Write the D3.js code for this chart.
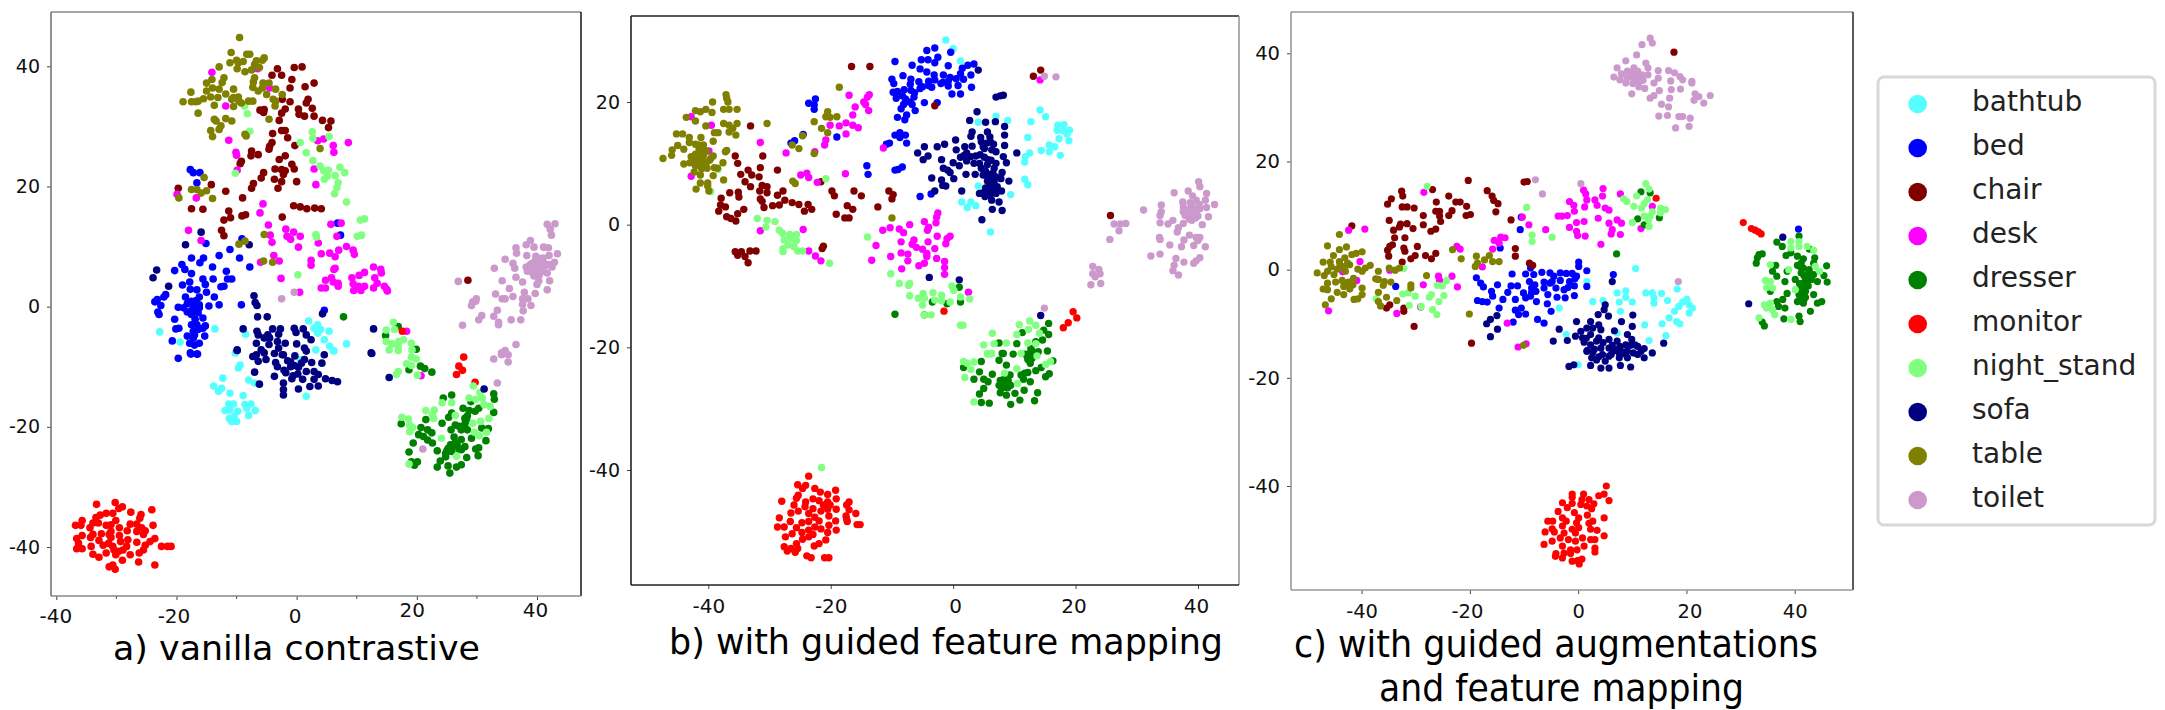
<!DOCTYPE html>
<html><head><meta charset="utf-8">
<script src="https://cdnjs.cloudflare.com/ajax/libs/d3/7.8.5/d3.min.js"></script>
<style>html,body{margin:0;padding:0;background:#fff}svg{display:block}text{font-family:"DejaVu Sans",sans-serif}</style>
</head><body><svg id="c" width="2165" height="710"></svg>
<script>
const categories=["bathtub","bed","chair","desk","dresser","monitor","night_stand","sofa","table","toilet"];
const colors=["#55ffff","#0000ff","#800000","#ff00ff","#008000","#ff0000","#80ff80","#000080","#808000","#cc99cc"];
const tickLabels=[-40,-20,0,20,40];

// Panel a: flat x,y pairs per class
const aBathtub=[2,-2.4,3.5,-3,2.9,-3.6,4,-3.8,3.5,-4.4,5.4,-4.1,4.6,-5.5,5.5,-6.6,6.1,-7.3,8.3,-6.2,3.2,-7.2,-13.6,-3.7,-22.8,-4.2,-8.5,-4.6,-19.4,-5.9,-10.2,-7.7,6.2,-7.4,.6,-8.8,-9.4,-9.7,-9.7,-10.2,-12.3,-11.9,-8,-12.2,-7,-12.7,-13.8,-13.2,-12.5,-13.6,-13,-14.1,-11.1,-14.4,-8.9,-14.8,1.6,-14.9,-11.3,-16.2,-10.5,-16.2,-8.6,-16.3,-7.6,-16.2,-8.3,-16.9,-6.9,-17.3,-11.9,-17.3,-11.1,-17.2,-9.8,-17.4,-8,-18.1,-10.4,-18.3,-11.2,-18.6,-10,-19.1,-10.8,-19.1];
const aBed=[-17.7,22.8,-17.2,22.3,-16.1,22.3,-16.6,20.6,6.8,13.9,7.3,11.9,-9.1,11.3,-15.1,10.5,-11.1,9.5,-12.9,8.5,-17.5,8.1,-15.5,8.1,-9.5,8.1,-16.1,7.3,-19.1,7,-14,6.6,-7.8,6.6,-20.3,6,-18.6,6.2,-17.5,5.5,-11.7,5.9,-15.6,4.6,-17.8,4.1,-13.9,4.6,-11.5,4.6,-10.8,4.6,-19,3.6,-15.2,3.7,-16.6,2.8,-17.7,2.9,-12.1,3.4,-12.6,3.3,-15,2.4,-21.8,2,-22.1,1.6,-18.5,1.6,-13.7,1.6,-23.2,1.2,-23.6,.8,-16.2,1.6,-17.5,.9,-18.2,.5,-16.8,.3,-16.2,.3,-12.9,.3,-9.2,.3,-22.6,.2,-19.7,-.1,-18.8,-.2,-17.2,-.2,-16.2,-.2,-14.6,.1,-18.2,-.9,-23.1,-.9,-22.9,-1.3,-17.5,-1.3,-15.6,-1.9,-16.9,-2.1,-20.3,-2.1,-16.6,-3,-17.5,-3,-15.2,-3.2,-15.6,-3.6,-20.1,-3.7,-19.6,-3.6,-17.2,-4.1,-18.2,-4.9,-15.3,-4.9,-17.2,-5.2,-20.7,-5.7,-17.8,-6.1,-16.2,-6.1,-17,-6.4,-17.7,-7.7,-16.6,-7.9,-19.7,-8.6,-17.6,-7.9,-16.5,-7.9,4.6,-.6,-17,.6,-16.4,-1,-17,-4.7,-17.5,-.7,-16.7,1,-16.4,-3.8];
const aChair=[.9,39.9,-.4,39.8,-3.2,39.6,-4.1,38.5,-2.5,38.5,-.8,37.8,2.9,37.2,1.4,36.6,-1.1,36.4,-2.4,34.5,-1.1,34.1,1.9,34.5,1.6,33.9,2.6,33,-6.1,32.7,-5.4,32.8,-5.5,32.3,-1.9,32.9,-2.5,32.2,.3,32.9,.4,32,1.3,31.7,2.9,31.7,-2.9,31,4.3,31,5.7,30.9,5.3,29.8,-2.5,29.3,-1.9,29.3,-4,28.8,-1.5,28.1,-4.1,27.3,-4.5,26.7,-.3,26.8,-4.6,26.2,-7.5,25.9,-6.4,25.3,-7.6,25.1,-1.9,25.1,-2.9,24.5,-9.2,24.2,-9.4,23.8,-.8,23.7,-.4,22.9,-3.6,22.9,-2.5,22.8,-1.9,22.6,-2.2,22,-5.5,22.3,-5.9,21.4,-3.7,21.2,-2.5,20.8,0,20.8,-7.2,20.5,-7.5,19.7,-3.1,19.7,-14.2,20.3,-19.7,19.7,-11.8,19.2,-9,18.1,-17.5,16.3,-15.6,16.2,-.5,16.8,.6,16.6,1.7,16.3,3,16.4,4.1,16.3,-11.3,15.9,-11,14.8,-12.1,14.4,-9.1,15.1,-8.5,15.3,-2.4,14.9,-12.5,12.7,-12.1,11.8,28.5,4.4];
const aDesk=[-14.1,39,-6.5,39.6,-4.5,36.4,-11.8,33.4,-11.3,27.7,-10.1,25.7,-10,25.2,-9.9,22.7,3.5,27.6,4.5,27.9,6.1,26.8,8.6,27.3,6.2,25.7,2.9,22.9,3.2,20.3,-19.9,18.7,-16.7,18.1,-5.6,17.1,-6.1,15.6,5.7,13.7,7.4,13.9,-4.7,13.6,-18,12.7,-1.8,12.9,-.5,12.4,-4.4,11.9,-1.6,11.7,-1,11.2,.6,11.7,6.7,11.7,-4.1,10.7,3.6,10.6,-15.9,11,.3,9.9,8.3,10,7,9.4,9.4,9.4,9.6,8.7,4.1,8.8,5.5,8.9,6.4,8.3,-3.8,8.5,-6,7.4,-2.9,7.6,2.4,7.7,2.4,6.9,6.4,6.4,6.2,6.2,12.8,6.6,14,6.2,14.1,5.6,11.3,5.7,10.4,5.2,9.2,4.8,13,4.8,-2.6,4.7,4.8,4.4,5.8,4.8,6.1,4.1,6.9,3.9,13.4,3.9,9.4,3.8,10.3,3.4,11.3,3.4,6.9,3.4,4.1,3.1,4.8,3.1,12.8,3.1,14.6,3.4,15,2.9,9.5,2.7,10.7,2.7,15.1,2.6,.5,2.4,18.3,-4.1,20.7,-11.5];
const aDresser=[7.8,-1.7,16.9,-3.3,14.8,-4.8,19.9,-7.1,20.6,-9.9,21.3,-10.3,18.7,-10.5,22.5,-10.9,25.8,-14.7,24.4,-15.2,32.8,-14.5,32.9,-15.4,29,-15.8,27.7,-16.9,28.7,-17.3,30.3,-16.9,29.7,-17.4,32.8,-17.6,25.8,-17.7,25.3,-18.4,28,-18.6,21.5,-18.8,24.2,-19.4,17.4,-19.5,28,-19.5,26.4,-19.7,20.7,-20.1,21.8,-20.5,27.4,-20.5,25.7,-20.5,28.4,-20.5,30.8,-20.2,31.9,-20.3,22.5,-21,20.3,-21.3,21.1,-21.6,26.2,-21.7,21.8,-22.2,27.4,-22.1,29.1,-21.9,31.5,-22.3,22.6,-22.7,19.4,-22.7,26.7,-23,28,-23.3,25.2,-23.6,30.3,-23.5,29.8,-23.7,23.4,-24,27.4,-23.8,25.8,-24.1,18.7,-24.2,24.8,-24.4,30.2,-24.8,28.3,-25.1,23.9,-25.7,24.8,-25,19.1,-25.8,20.1,-25.8,19.6,-26.4,23.4,-26.7,25.2,-26.5,27.4,-26.3,26.6,-26.7,25.5,-27.7,26,-23.2,26.4,-22.6,27,-23.7,25.6,-23,25,-24,27.9,-20,28.3,-19,27,-19.9,28.4,-18.2];
const aMonitor=[17.6,-4.1,27.8,-8.4,27,-9.9,27.6,-10.6,26.6,-11.3,29.7,-12.6,-30.2,-32.6,-33.3,-32.9,-29,-33.3,-29.6,-33.6,-24.1,-33.8,-27.6,-34.2,-25.9,-34.6,-31.7,-34.4,-30.6,-34.4,-32.7,-34.7,-26.1,-35.2,-33.4,-35.1,-35.7,-35.6,-33.9,-36,-33,-36,-30.1,-35.6,-36.8,-36.4,-35.9,-36.4,-31.7,-36.4,-27.7,-36.2,-26.6,-36.2,-23.9,-36.4,-30.9,-36.3,-29.5,-36.8,-34.4,-36.8,-25.8,-36.8,-30.9,-37.4,-28.2,-37.3,-26.6,-37.4,-25.2,-37.3,-32.5,-37.8,-31.2,-37.9,-33.9,-37.9,-35.7,-38.1,-29.5,-38.1,-25.5,-37.9,-34.3,-38.4,-36.6,-38.6,-30.9,-38.4,-23.6,-38.6,-32.9,-38.9,-28.1,-38.8,-26.6,-39.2,-29.3,-39.1,-24.4,-39.1,-36.3,-39.4,-32.2,-39.7,-31.3,-39.4,-34.2,-39.9,-25.2,-39.7,-30.6,-39.9,-22.5,-39.9,-21.5,-39.9,-20.9,-39.9,-36.6,-40.3,-35.7,-40.3,-28.3,-39.9,-28.9,-40.5,-25.5,-40.5,-29.6,-40.7,-30.4,-40.5,-31.7,-41,-26.2,-41,-30.1,-41.3,-27.7,-41.3,-33.9,-41.2,-32.9,-41.7,-29,-42.2,-26.3,-42.5,-23.6,-43,-31.2,-43.3,-30.6,-43,-30.2,-43.7];
const aNight=[-8.7,33.4,-8.2,32.1,-7.8,29.2,2.6,29.1,2.7,28,5.4,28.3,.6,27.3,1.6,25.6,2.7,24.3,3.9,23.4,4.5,22.6,5.3,22.7,7.2,23.2,8,22.3,6.4,21.8,5.1,21.7,4.6,21.2,6.9,20.6,6.7,19.8,6.3,18.8,8.3,17.4,-10.2,22.2,11.3,14.6,10.6,14.4,3.2,12,3.3,11.6,10.8,11.9,10.1,11.7,.2,5.3,16.1,-2.6,14.9,-3.9,16.3,-3.8,14.9,-5.8,15.9,-6.2,17,-5.8,17.8,-5.5,16.9,-6.6,19.1,-6.1,19.2,-7.2,15.4,-7.2,16.9,-7.3,19.1,-8.4,19.9,-8.7,18.3,-9.5,19.1,-9.8,16.9,-10.8,16.6,-11.3,20.1,-11.4,29.4,-13.2,30.5,-14.3,29.8,-15.4,30.9,-15.2,28.7,-15.2,24.2,-16,25.8,-16,31.2,-16.3,32.2,-16.6,21.5,-17.3,22.9,-17.2,22.6,-18,22.8,-18.6,26.4,-18.1,17.5,-18.4,18.6,-18.7,32,-18.6,18.8,-19.7,19.3,-20.1,18.8,-20.8,29.3,-19.4,30.6,-19.1,29.6,-20.9,31.6,-20.9,30.4,-21.5,24.1,-21.9,26.6,-24.9,18.7,-26.2];
const aSofa=[-15.9,12.4,-18.5,10.3,-7.9,10.3,-23.3,6.1,-23.9,4.8,-21.3,3.4,-7.1,1.8,-6.9,.7,-6.6,.2,4.3,-1.2,-6.5,-1.7,-4.9,-1.7,12.8,-3.7,-8.9,-3.7,-4,-3.7,-2.7,-3.7,-.4,-3.6,1.1,-3.7,-6.6,-4.1,-6.4,-4.7,-4.8,-4.7,-3,-4.6,-.1,-4.3,1.6,-4.7,-5.4,-5.2,-4.5,-5.2,2.4,-5.5,-6.7,-6.1,-3.2,-5.8,-1.9,-6.1,0,-6.2,-4.6,-6.3,1.3,-6.9,-9.9,-7.2,-5.9,-7.2,-2.4,-8,-6.7,-8,12.4,-7.7,4.6,-8,-9.9,-7.3,12.5,-7.8,-7.3,-8.3,-5.4,-7.7,-3.7,-7.8,-2.2,-8,-.3,-8.2,1.6,-7.4,-6.4,-9.1,-5.1,-8.8,-3.5,-9.3,-1.5,-9,1.3,-8.8,2.5,-9.3,4.2,-9.4,-3.2,-10,-1,-10,.3,-10.1,-2.1,-10.6,-7,-10.9,1.6,-10.8,2.9,-10.8,3.6,-11.3,-3.7,-11.6,-.6,-11.5,-.8,-12,1,-12.1,2.9,-12.1,4.8,-12,5.9,-12.3,6.8,-12.5,-6.2,-12.9,-2.2,-12.7,2.2,-13.3,3.6,-13.2,.3,-13.7,-2.2,-13.8,-2.2,-14.7,15.4,-11.8,31.2,-13.7,-1,-9.2,-.4,-9.8,.8,-9.4,-1.8,-11,.2,-11.2,-3,-6.9];
const aTable=[-9.5,44.8,-10.9,42.3,-8.3,42,-7.8,42,-5.4,41.4,-5.7,41,-10,41,-9.7,40.6,-11.1,40.6,-8.9,40.8,-6.7,40.9,-7,40.3,-12.9,39.9,-9.9,39.6,-8.6,39.1,-7.5,39.4,-6.2,39.8,-14.1,37.8,-12.1,38.1,-12.4,37.3,-15,37.2,-7,38.1,-7.2,37.4,-5.6,37.2,-4.6,37.2,-7.3,36.5,-5.7,36.4,-6.4,35.9,-3.5,36.2,-10.5,36.2,-14,36.4,-12.9,36.2,-15,35.9,-17.6,35.7,-11.8,35.4,-13.1,34.8,-14.3,34.9,-15.5,34.6,-10.5,34.8,-9.7,34.9,-10.8,34.5,-9.6,34.2,-9.2,33.9,-5,35.3,-2.4,35.3,-3.9,34.5,-3.5,34.2,-3.6,33.4,-18.9,34.1,-17.5,34.1,-16.8,34.1,-16.4,34.2,-8,34.2,-7.3,34.2,-13.7,33.5,-10.5,33.3,-16.4,32.2,-13.7,31.2,-11.8,31.3,-10.8,30.9,-13.4,30.9,-4.6,31.2,-12.6,30.1,-12.9,29.5,-14.3,29.3,-14,28.3,-8.6,28.7,-8.4,28.4,3.9,26.3,-15.4,21.5,-17.5,19.5,-16.6,19.5,-15.9,18.9,-15,19.3,-14,18,-19.6,18.1,-5.4,12,-9.6,10.4,-8.6,10.9,-5.5,7.6,-4,7.4];
const aToilet=[41.7,13.7,43,13.8,42.2,12.9,42.4,11.9,38.9,11,38.2,10.3,39.5,9.9,41.1,9.9,41.9,9.8,36.5,9.8,36.6,8.9,43.4,8.8,38.3,8.5,34.7,7.9,39.8,8.4,42,8.5,41,8.1,39.7,7.6,42.9,7.4,36,7.2,41.1,7.3,38.9,7,41.9,7,42.5,6.6,32.9,6.4,36.3,6.4,38.2,6.6,39.5,6.2,40.8,6.4,38.4,5.9,41.7,5.6,39.5,5.1,40.4,5.3,36.5,4.9,26.9,4.2,34.2,4.3,37.6,4.1,40.3,4.3,42.1,4.3,40,3.7,35.4,3,41.7,2.8,37.9,2.4,33.1,2.1,36,1.7,39.7,2.2,29.9,1.3,34.2,1.3,34.7,1.3,38.5,1.3,37.6,1.3,29.3,.8,29.8,.9,29.1,.2,37.6,.4,39,.2,33.4,-.6,37.7,-.7,30.8,-1.5,32.8,-1.6,30.3,-2.2,35.7,-2.2,37.3,-2.2,33.6,-2.6,33.6,-3,27.6,-3.1,36.5,-6.3,34.7,-7.3,34.1,-7.7,32.8,-8.7,34.1,-8,35.2,-8,35.2,-9.2,33.4,-12.7,21,-23.7,-2.5,1.3,-.4,2.4,40,7.5,40.6,7,39,6.8,40,6.6,41.3,6.8,39.3,5.6,40.2,5.8,40.8,5.9,38.8,6.1,40.4,8,39.2,7.2];

// Panel b
const bBathtub=[-1.2,30.1,0,28.7,1.2,26.7,14.2,18.7,15.1,17.6,12.7,16.8,7,17.7,8.9,17,4.1,16.7,17.1,16.2,18.1,16.3,17,15.4,18,15.3,19,15.4,18.6,14.8,12.2,14.2,17.3,14,18.9,13.7,15.7,13,16.6,12.7,14.4,12.1,12.5,11.7,15.7,11.9,17.5,11.3,11.8,11.1,11.7,10.2,11.7,7.4,12.2,6.5,4.1,6.3,9.4,4.9,1.4,3.7,2.9,3.7,2.3,2.8,3.7,3.1,6.1,-1.2];
const bBed=[-4.3,28.4,-3,28.8,-.4,28.1,-9.5,26.6,-5.2,26.9,-4.1,26.9,-6.7,26,-3,26.4,-2.5,27.3,-.8,25.9,3.4,26.2,2.4,26,-5.4,25.4,-4.3,24.9,1.5,25.5,-8.2,24.3,-1.6,24.4,-3.1,24.4,2.9,24.4,1.2,24.6,-10,23.7,-6.9,23.7,-5.6,23.3,-4,23.4,-3,23.6,-.5,24,.5,23.8,1.7,23.7,-1.7,23.2,-9.7,23,-7,22.9,-4,22.7,-5,22.5,-.8,22.6,.8,22.7,3,22.4,-9.8,21.6,-9.1,21.7,-6.9,21.9,-5.4,22.2,-.2,21.3,1.2,21.3,-8.3,21,-6.4,20.8,-9.3,20.6,-7.8,20.5,-7.1,20,-8.1,19.6,-4.7,19.9,-6.7,19.6,-2.6,19.9,-8.5,18.9,-6.2,18.6,-7.6,17.9,-9.1,17.5,-7.9,17.1,-22.5,20.5,-23.6,19.8,-22.7,19.5,-22.7,18.8,-8.7,15,-9.5,14.6,-7.8,14.6,-8.7,14.2,-7.6,13.3,-10.4,13.3,-10.9,13.1,-24.5,14.7,-25.9,13.7,-26.5,13.3,-19,14.3,-14.1,9.6,-13.9,8.2,-8.3,9.4,-9,9,-9.5,8.9,-5.4,4.6,-3.6,5,-2,23,-.8,23.4,-6.3,21.5,-8,22,-3.5,22.4];
const bChair=[-16.6,25.8,-13.6,25.8,13.1,24.2,14.3,25.2,-3,19.4,-33.1,16.1,-35.6,11.2,-31.1,11.2,-35.2,10,-31.5,9.3,-28.7,8.9,-33.5,8.9,-34.7,8.2,-32.9,8.1,-31.7,7.8,-34,7,-21.6,7,-33.1,6.2,-31.2,6.4,-30.4,6.2,-31.6,5.5,-27.8,5.5,-19.8,5.5,-16.2,5.5,-10.5,5.5,-36.5,5.2,-35.1,5.3,-30.4,5.2,-28.7,4.8,-19.4,4.7,-15,4.7,-9.8,4.9,-35,4.5,-37.9,4.3,-31.5,4.2,-31.2,3.8,-27.5,4,-10,4.2,-26.3,3.6,-25.2,3.3,-23.7,3.3,-29.5,3.1,-28.4,3.2,-17.3,3.1,-30.9,2.8,-12.3,2.9,-38,3.2,-37.2,2.9,-23.1,2.5,-16.4,2.5,-38.3,2.2,-34.2,2.5,-24.3,2.2,-35.2,1.8,-19.1,1.7,-37,1.3,-36.3,1,-17.7,1.1,-17,1.1,-35.5,.6,25.7,1.5,-35.6,-4.4,-34.6,-4.4,-33.2,-4.3,-32.2,-4.3,-35.2,-5,-34,-5.2,-33.5,-6.2,-21.2,-3.5,-21.4,-3.9];
const bDesk=[14.2,23.6,-17,21.1,-13.7,21.2,-14,20.8,-14.6,20,-14.3,19.6,-16,19.2,-13.8,18.6,-16.4,17.9,-42.8,17.6,-39.5,16.2,-20.1,16.2,-18.6,16.1,-17.5,16.6,-16.4,16.2,-15.5,15.8,-17.5,14.8,-20.8,13.8,-21,13,-31.5,13.4,-11.4,12.5,-27.3,11.7,-39.9,12,-22.6,11.9,-42.8,7.9,-24.9,8.1,-23.9,8.4,-23.6,7.7,-17.6,8.3,-22.2,6.9,-2.5,1.9,-2.7,1.2,-4.7,.5,-2.8,.3,-7.1,0,-4,-.4,-10.3,-.5,-8.8,-.7,-4.2,-.9,-11.5,-.9,-8.1,-1.3,-24.5,-.8,-31.5,-1,-.5,-1.9,-2.6,-1.9,-1,-2.3,-8.5,-2.8,-6.4,-2.5,-4.1,-2.8,-1.2,-3.1,-6.7,-3.2,-6,-3.7,-5,-4,-3,-3.9,-12.6,-3.4,-4.3,-4.7,-8.5,-4.6,-7.4,-4.8,-10.2,-5.2,-23.6,-4.3,-22.5,-5.1,-4.3,-5.2,-2.7,-5.5,-13.3,-5.8,-21.6,-5.9,-7.4,-5.9,-1.4,-6,-4.7,-6.3,-5.6,-6.7,-1.4,-7,-8.4,-7.2,-1.4,-8.1,2.5,-11];
const bDresser=[1,-10.2,1.2,-12.6,-3.4,-12.6,-1,-12.9,-9.5,-14.6,-4.7,-14.7,15.6,-16.1,11.3,-17.6,14.8,-17.2,15.6,-17.9,14.6,-18.8,13.5,-19.1,7.5,-19.3,10.4,-19.4,15.4,-20.6,12.9,-20.6,8.2,-21,9.8,-21.1,11.8,-21.1,8,-21,12.5,-21,13.9,-20.7,12.9,-21.8,4.6,-22.3,7.5,-22.1,16.3,-22.2,8.7,-22.9,12.6,-22.6,14.4,-23.3,1.7,-23.3,13.5,-23.8,4.3,-24,6.4,-24.4,15.7,-24.3,15.1,-24.8,9.3,-24.5,11.1,-24.5,3.4,-25.2,5,-25.2,12.6,-25.6,5.7,-25.6,7.7,-25.4,8.4,-25.7,11.5,-25.2,9.4,-26.2,7.5,-26.2,8.4,-26.5,5,-26.7,11.6,-27,7.7,-27.4,8.7,-27.8,10.1,-27.5,4.3,-27.6,13.8,-27.4,10.9,-28.6,13.3,-28.7,4.6,-29,5.9,-29.1,9.4,-29.3,8,-25.9,8.8,-26,8.3,-25.2,9,-25.5,7.9,-26.6,8.9,-26.6,12.1,-21.5,12.2,-22,13.4,-21.3,12.7,-20.2,11.7,-24.2,12.2,-24.1];
const bMonitor=[-1.5,-14.1,19.6,-14.2,20.2,-15.2,18.8,-16,18,-16.8,-23.6,-41,-25.4,-42.4,-24.1,-42.5,-24.6,-43,-22.6,-43,-21.7,-43.6,-19.2,-43.3,-20.5,-44,-25.3,-44.1,-19.1,-44.7,-25.6,-44.6,-22.9,-44.7,-28,-45.1,-24.1,-45.2,-21.9,-45,-20.5,-45.2,-17,-45.2,-26,-45.7,-21.2,-45.7,-20.1,-45.7,-17.4,-45.7,-24.2,-46,-22.9,-46.3,-19.1,-46.4,-17,-46.5,-21.6,-46.7,-20.5,-46.4,-25.3,-46.7,-26.5,-47,-23.6,-47.1,-15.9,-47.1,-20.3,-47.5,-17.5,-47.5,-22.6,-47.7,-28.4,-47.8,-17.4,-48,-21.9,-48.3,-19.2,-48.3,-26.6,-48.4,-24.7,-48.6,-23.6,-48.4,-17.3,-48.4,-15.7,-48.9,-15.2,-48.9,-20.3,-49,-28.7,-49.3,-27.6,-49.3,-22.6,-49.3,-25.6,-49.4,-21.6,-49.6,-23.6,-49.8,-19.1,-49.8,-20.5,-50.2,-24.7,-50.2,-26.3,-50.4,-22.9,-50.5,-27.4,-50.9,-24.6,-51.3,-23.6,-50.9,-20.8,-51.4,-25.6,-52,-21.9,-52,-22.7,-52.4,-27.6,-52.5,-26.5,-52.8,-25.4,-52.8,-27.1,-53.2,-25.8,-53.4,-23.9,-54,-23.2,-54.3,-21,-54.3,-20.3,-54.3];
const bNight=[-32,1,-30.4,.7,-29.1,.5,-30.6,-.4,-28.4,-.9,-27.9,-1.4,-26.7,-1.6,-25.6,-1.6,-27.6,-2.5,-26.5,-2.3,-25.6,-2.6,-27,-3.3,-27.8,-3.9,-27.8,-4.4,-26,-3.6,-25.4,-4.3,-24.6,-4.3,-20.2,-6.3,-20.8,7.5,-38.4,9,-39.6,5.4,-14,-2,-10.2,-8,-8.8,-9.6,-7.1,-9.6,-7.3,-9.9,-.2,-10,-7.1,-11.6,-4.9,-11.2,-3.3,-11.1,.1,-10.7,1.2,-11.8,-5.7,-12,-4.7,-12,-1.9,-11.5,-5,-13.1,-3,-12.3,-1.9,-12.4,-.5,-12.6,2.7,-12.1,-4.7,-14.7,-3.6,-14.7,1.2,-16.4,1.6,-16.4,12.5,-15.7,10.8,-16.3,13.5,-16.4,10.4,-17.9,12.3,-17.1,14.1,-17.7,6.4,-17.7,5,-19.6,6.7,-19.4,8.7,-19.3,12.2,-19.3,13.5,-19.4,5.6,-21,6.3,-21,5.6,-21.1,6.2,-21.1,13.7,-21.4,15.9,-22.3,15.1,-22.8,1.7,-22.3,3.4,-22.4,2.3,-22.6,2.9,-23.6,8.4,-24.2,10.4,-23.5,1.9,-24.9,10.5,-25.9,3.4,-28.9,11.1,-21,-21.5,-39.6];
const bSofa=[4.1,25.2,7,20.8,7.7,21,8.2,21.1,3.9,18.4,2.7,17,5.3,16.7,6.9,16.8,8.4,16,3.1,15.1,5.6,15.1,2.9,14.4,8.4,14.6,4.5,14.2,6,14.3,.4,13.8,4.6,13.5,6.1,13.5,4.9,12.7,8.4,12.9,-1.4,13.1,-4.7,12.7,-2.6,12.7,.5,12.2,1.9,12.7,3.1,12.8,6.3,12.2,7,11.9,-5.8,11.7,10.4,11.7,2.2,11.7,-4.1,11.2,-4.9,10.6,-1.9,10.6,2.9,11.1,8.2,11.1,2.2,10.4,4.3,10,0,10.1,8.7,10.1,-1.6,9.2,1,9.6,7,10,4.6,9.2,-.9,8.9,6.7,9.2,-.5,8.5,2.1,8.2,3.6,8.2,8,8.5,4.9,8.1,6,8.2,-3.5,7.6,.1,7.5,7.8,7.5,-1.9,7.3,7,7.8,9.1,7.1,6.7,7,-1.7,6.4,-1.2,6.3,6,6.4,7.2,6.2,-3,5.5,1.4,5.5,7.9,5.5,4.3,5.1,4.9,5.2,6,4.8,7,5.1,6.3,4,7.5,3.7,6.4,2.5,8,2.3,4.7,.8,-3.9,-8.6,1,-9,14.3,-14.8,5.7,10.6,5.1,11,6.2,10.5,5.6,9.8,5.3,8.7,5.5,8,6.5,8.4,6.2,7.2,5.6,7.1,6.5,6.5,6.8,5.7,5.3,6,5.7,5.5,6.3,5.5,5.1,12.4,5.5,13.3,6.6,13.1,4.4,11.4,3.7,11.2,3.4,10,1.8,11.3,1.2,11,5.2,4.6];
const bTable=[-37.1,21.2,-37,20.6,-36.8,20,-39.3,20,-42.1,18.6,-41.3,18.4,-40.4,18.8,-39.4,18.3,-37.5,18.8,-36.6,18.8,-35.3,18.8,-43.6,17.5,-42.1,16.9,-40.4,16.1,-37.5,16.5,-36.6,16.2,-35.3,16.5,-36,15.7,-30.4,16.5,-45.2,14.8,-44.2,14.8,-39,15,-38.4,15,-36.6,15.1,-35.5,14.6,-43.1,14.2,-41.2,14.2,-39.2,13.6,-43.1,13.4,-45,12.9,-42.1,13.1,-40.8,13,-45.9,12.2,-44,12.3,-41.5,12.3,-37,12.1,-37.2,11.9,-42.1,11.5,-46,11.3,-42.8,11.1,-40.8,11.3,-39.2,11.2,-47.4,10.8,-42.1,10.6,-39.8,10.5,-40.8,10.4,-43,10.1,-37.6,10.1,-44,9.9,-42.1,9.6,-40.4,9.8,-39,9.3,-38.5,9.2,-42.3,8.6,-41.1,9.1,-41.3,8.1,-39.2,8,-37.5,7.3,-41.3,6.8,-40.1,6.8,-40.1,6.3,-42,5.8,-39.9,5.5,-18.6,22.4,-20.5,18.4,-20.8,17.6,-20.1,17.5,-19,17.6,-22.7,16.8,-21.5,15.7,-20.5,15,-24.6,14.5,-26.3,13,-25.2,12.4,-22.7,11.6,-26.2,7.1,-25.8,6.7,-10,1.1,-41,11.8,-41.7,10.8,-40.3,12,-41.4,10,-39.6,10.8,-41.6,13,-40.2,9.2];
const bToilet=[40.1,7,40.3,6.2,41.4,5.1,36.1,5.2,38.4,5.5,39.1,4.7,41.2,4,42.7,3.3,34,3.2,37.5,3.7,39.7,4,31.1,2.4,37.6,2.9,39,3.2,41.4,2.8,40.3,2.6,34,2.1,33.8,1.5,37.6,2.1,38.6,1.8,39.7,1.8,41.7,1.3,39,.7,33.8,.3,35.9,.7,37.6,.2,40.7,0,26.3,.1,27.3,.1,28.2,.2,35.1,.1,36.8,-.5,27.1,-1,36.6,-1.2,25.6,-2.4,33.7,-2.1,38.6,-1.7,39.7,-2.1,40.3,-2.1,33.8,-2.4,37.7,-2.5,40,-2.6,35.4,-3.3,37.3,-3.6,39.3,-3.4,41.2,-3.6,33.8,-4.8,32.3,-5.1,36.4,-5.5,40.3,-5.4,37.7,-6.1,39.7,-5.9,39.3,-6.3,36.1,-6.6,35.9,-7.5,36.8,-8.2,22.8,-6.8,23.8,-7.3,22.8,-8,24,-8,23.2,-8.5,24.1,-9.6,22.5,-9.8,14.9,-13.6,16.8,24.1,14.9,24.2,38.8,2.6,39.4,2.5,39,1.2,39.6,1.1,38.6,.9,40,1.4,38.9,2.1,39.4,1.6,38.2,2.4,37.9,1.5,39.9,2.5,40.2,3.3,38.7,3.6];

// Panel c
const cBathtub=[10.6,.2,1.6,-2.2,18.3,-3.6,12.5,-4.3,7.2,-4.3,8.8,-3.9,13.7,-4.3,15.4,-4.4,8.8,-5.1,7.6,-6,10,-6,2.7,-5.9,4.6,-5.7,14,-5.2,14,-6.2,16.5,-5.7,20.1,-5.5,19.3,-6,20.5,-6.5,21.1,-7.1,18.6,-6.8,20.5,-8,17.8,-7.7,16.8,-8.9,7.8,-7.7,-3.5,-7.1,18.2,-9.6,18.8,-10,12.3,-10.2,15.5,-10,-2.2,-12,7.2,-11.7,16.2,-12.2,13.1,-13.1,0,-17.6];
const cBed=[40.7,7.5,-33.7,-3.1,-10.5,9.7,-10.7,7.4,-14.4,4,.1,1.4,.1,.6,1.6,-.2,-8.8,.3,-6.7,-.5,-9.7,-.8,-12.2,-.8,-8.2,-.9,-5.2,-.6,-3.3,-.6,-2.2,-.7,-1.1,-.7,-.3,-1.2,-18.8,-1.5,-4.5,-1.2,-12.4,-3,-11.2,-3,-14.9,-2.8,-9,-2.2,-6.3,-2.3,-5.2,-2.5,-3.3,-2,-1.6,-2.2,1.6,-3.1,-.7,-3,-18,-2.5,-17.5,-3.2,-16,-4,-13,-4.2,-8.6,-3.4,-6.3,-3.4,-4.1,-3.4,-2.6,-3.7,-10.1,-4.3,-7.8,-4,-15.8,-4.9,-13.9,-5.5,-11.6,-5.5,-8.8,-4.9,-9.7,-5.2,-5.6,-4.6,-3.9,-5.1,-2.4,-5.2,-.7,-4.8,-18.6,-5.7,-17.7,-5.9,-16.8,-6,-7.7,-5.9,-5.7,-6.3,-14.6,-7.1,-10.5,-7.1,-11.6,-7.5,-5,-7.7,-11,-8.3,-9.7,-8.2,-7.5,-9.2,-6.3,-9.9,-12,-9.7,6.5,-.9,-8.6,-4.2,-8,-2.8,-1.9,-3.3,-4.8,-2.2,-.6,-1.7];
const cChair=[17.7,40.2,-20.3,16.5,-10,16.2,-9.4,16.3,-16.8,14.6,-32.6,14.5,-26.9,14.8,-32.4,13.6,-23.9,13.6,-15.9,13.6,-34.5,13.1,-15.6,12.8,-22.6,12.5,-21.8,12.5,-26.2,12.5,-35.2,12.1,-14.8,12.2,-20.6,11.7,-32.5,11.6,-31.6,11.6,-30.3,11.4,-26.3,10.8,-25.6,10.8,-23.3,10.9,-15.2,10.7,-28.6,10,-23.9,10,-25.6,9.9,-20.7,10,-19.9,10.2,-12.4,9.2,-34.9,9.1,-32.8,8.4,-31.6,8.5,-28.6,8.3,-25.4,8.9,-33,7.9,-34.1,7.3,-30.5,7.6,-26.3,7.5,-27.2,7.1,-33.9,5.9,-32,5.9,-34.3,4.6,-34.8,4.3,-29.7,4.3,-32.2,4,-35.2,3.6,-32,3.4,-26.3,3,-28.2,2.6,-30.1,2.6,-27.1,2,-35,2.5,-30.9,2,-11.6,3.9,-11.6,2.5,-32.5,1.4,-9,1.2,-8.4,.8,-41.8,8.1,-35.4,-7.1,-34.8,-6.5,-32.2,-7.1,-32.2,-7.7,-30.3,-10.5,-19.7,-13.6];
const cDesk=[-42.4,7.3,-39.4,7.5,-28.5,14.3,7.8,14,1,14.7,4.6,15,1.4,14,4.5,13.6,1.6,12.9,-1.6,12.6,3.1,12.9,-.8,11.9,1.2,11.6,3.5,11.9,5,11.4,5.7,11,-.7,10.8,13.7,11.7,-3.7,9.9,-3,9.9,-2,10,3.7,9.5,-10.3,9.7,7.2,9.2,1.1,8.9,-.3,8.7,5.7,8.6,8,8.6,-1.6,7.8,-.3,7.1,6.3,7.4,-9.1,8.3,-6,7.4,11.6,7.6,-.1,6.3,1.3,6.2,6.1,6.6,7.8,6.5,4.2,4.7,-14.3,6,-15.5,5.4,-13.5,5.9,-14.6,4.9,-15.8,3.8,-22.4,4.3,-21.8,3.8,-17.7,.5,-43.5,-.4,-40.3,1.5,-34.8,-.1,-40.9,-2,-25.8,-1.2,-25.6,-2,-23.3,-1.2,-28.6,-2.8,-22.3,-3.2,-29.1,-6.9,-46.1,-7.6,-33.5,-8.1,-13.1,-9.9,-9.6,-13.7,-11.1,-14.3];
const cDresser=[11.6,14.4,13.3,14.2,11,9.4,12.2,8.3,15,9.6,7.1,2.9,36.7,5.1,37.7,4.3,40.8,6.2,39.3,3.1,33.4,2.8,34,2.9,33.1,2.2,32.9,1.2,38.4,2.6,40.5,2.5,43.7,2.2,42.7,3.8,41.2,1.2,43.5,1.2,36.5,.8,45.9,.7,41.6,.3,35.9,-.3,42.7,0,38.6,-.3,41.2,-.6,43.5,-.9,45.4,-1.1,36.7,-1.2,38.2,-2.2,40.1,-1.8,42,-1.8,43.1,-1.8,44.2,-2.2,46,-2.3,42,-2.8,41.2,-3.1,35.5,-4,38.6,-4.4,42,-4,43.5,-4.6,40.8,-4.6,42,-5.1,36.7,-5.9,37.8,-5.5,40.5,-5.9,41.6,-6.2,45,-5.9,44.2,-6.2,37,-6.8,38.2,-7.1,42.9,-7.7,40.8,-8.6,38,-9.1,41,-9.6,34,-9.7,34.4,-10.4,41.7,-1.1,42.4,-.8,41.6,-2.5,42.5,-3,42.7,-1.1,40.9,-2.6,41.3,-4.2,41,-5.3,41.7,-5.6,42.3,-2.3,41,.6,40.5,.8,41.6,2];
const cMonitor=[14.4,13.2,30.5,8.7,32,7.6,32.7,7.3,33.3,7,33.8,6.6,5.2,-40,3.8,-41.8,4.8,-41.5,-1.1,-41.5,1,-41.5,5.7,-42.7,-1.1,-42.1,2,-42.5,.7,-42.5,-2.9,-43.1,-1.1,-43.2,.5,-43.4,1.6,-43.7,2.9,-43.3,2.5,-44.2,-2,-44,-3.7,-44.7,-.7,-44.9,1.7,-45.4,.1,-45.9,4.8,-45.9,-2.9,-45.9,-5.6,-46.5,-4.7,-46.5,2.7,-46.5,-2.2,-46.5,-.3,-46.8,2,-46.9,-2.9,-47.4,.1,-47.7,-4.8,-47.9,-1.1,-48,2.3,-48,3.5,-48.2,-6.1,-48.5,-4.4,-48.5,-2.6,-48.7,-.5,-48.7,4.8,-49.2,.8,-49.6,2.3,-49.9,3.1,-49.9,-4.8,-50.2,-1.8,-49.9,-3.3,-49.6,-.5,-50.2,-6.3,-50.8,-2.9,-51.1,1.1,-51.1,3.1,-51.5,-.2,-51.8,-1.4,-51.8,3.1,-52.2,-4.1,-52.5,-2.6,-52.4,-1.4,-52.5,-4.2,-53,-2.9,-53.3,.7,-53.5,-1.1,-53.9,-.1,-53.8,.2,-54.4];
const cNight=[-27.9,15.4,12.5,15.9,13.1,14.9,8.4,13.1,9,12.6,10.8,13.6,12.8,12.9,12.2,12.2,10.3,11.7,11.7,11.4,15.2,11.4,16.1,11.1,13.7,10.7,15.2,10.5,12.2,9.9,13.3,9.9,10,8.7,13,9.2,13.1,8,-9.5,11.5,-8.5,6.4,-8.5,5.2,-4.8,6,-32.2,.2,-26,-2.9,-24.3,-2,-25.1,-3,-32.4,-4.5,-31.4,-4.3,-30.1,-4.9,-27.1,-4.6,-27.5,-5.1,-24.8,-4.8,-25.7,-5.9,-37.3,-5.4,-29,-6.8,-31.2,-6.6,-26.9,-7.4,-26.1,-8.3,39.3,5.2,40.8,5.2,40.8,4.3,42.3,4.3,43.5,3.6,39.3,4,43.8,.6,35.5,.9,38.9,0,34.6,-2,35.5,-2.2,40.1,-3.7,34.8,-3.3,35.9,-3.4,34.4,-6.5,35.5,-6.2,34.8,-7.1,35.9,-7.4,36.3,-8.3,33.4,-8.9,39.3,-9.2,44.6,-.3];
const cSofa=[37.8,6,31.5,-6.3,-15,-8.5,-16.2,-9.2,-16.9,-10,-14.9,-11,-16.2,-12.4,5,-6.5,4.8,-7.4,3.7,-8.3,5.6,-8.6,10.1,-8.4,6.3,-2.2,-.3,-9.6,2.3,-9.6,8,-9.6,3.8,-10.2,10,-10.5,-3.5,-11,1.6,-10.8,.5,-11.4,4.2,-11.1,6.7,-11.3,9.1,-12,2.3,-12,-.5,-12.3,.8,-12.6,3.8,-12.6,5.7,-12.9,7.2,-13.2,9.9,-12.9,-4.6,-13.2,-2,-13.1,15.8,-13.6,2.3,-13.9,8.8,-13.9,11,-14.2,4.2,-14.5,5.7,-14.5,7.2,-14.8,1.7,-14.9,12.2,-14.6,2.7,-15.3,9.1,-15.1,13.7,-15.4,4.5,-15.7,6.1,-15.7,1.6,-15.1,12.2,-16.3,2.5,-16.3,3.8,-16.1,5.7,-16,9.1,-16.3,11,-15.7,-1.7,-17.9,-.8,-17.6,2.3,-17.7,4.2,-18.2,5.7,-18.2,7.8,-17.7,9.7,-18,7.6,-15.4,5,-16.9,3,-14.7,4.6,-13.5,6.3,-14,7.7,-14.2,8.3,-15.2,9.7,-14,8.7,-15.6,7.6,-16.3,6.7,-15,3.4,-13.2,1.5,-12.7,2.7,-10.8,1.1,-13.4,3.4,-16.7,10.2,-15.4,11.6,-15.1,10.5,-13.9];
const cTable=[-44.1,6.5,-46.3,4.4,-42.8,4.2,-44.1,3.7,-39.9,3.3,-41,3,-41.8,2.8,-45.2,2.6,-43.1,2.2,-47.1,1.4,-45.8,1.4,-44.1,1.5,-42.6,1.2,-42.2,.9,-45.6,.5,-43.7,.6,-44.5,.1,-40.7,.1,-39.3,.3,-38.4,.8,-46.3,-.3,-48.2,-.6,-46.9,-1.1,-45.1,-.9,-36.9,-.3,-39.9,-.3,-34.9,.3,-33,.3,-33.8,-.1,-37.4,-1.7,-36.9,-1.8,-35.8,-2.2,-34.6,-2.3,-36,-2.9,-44.8,-2.3,-46.3,-2.5,-42.8,-2.5,-41.6,-2.8,-39.9,-3.4,-43.3,-3.1,-47.1,-3.6,-46.3,-3.7,-42.2,-3.6,-44.5,-4.2,-43.3,-4.6,-36.9,-4.2,-30.9,-2.8,-30.9,-3.4,-39.9,-4.6,-41.4,-5.5,-40.7,-5.4,-45.6,-5.4,-35.4,-5.1,-33.5,-5.7,-36.9,-5.9,-46.7,-6.5,-36.5,-6.7,-20.1,-8.2,-28,-1.1,-23.2,3.7,-21.6,2,-18.8,2.5,-18.6,1.2,-17.3,1.8,-19,.6,-16.4,2.6,-15.8,1.5,-14.6,1.5,-10.1,-14,-42.4,-2.3,-43.6,-2,-42,-3,-44,.9,-43.2,.2,-41.5,-1.6,-43,-.3];
const cToilet=[13.3,42.8,11.8,41.6,13.7,41.9,10.8,39.7,8.8,38.6,12.5,38.2,7.2,37.3,10.3,37.3,14.8,36.8,16.7,36.8,17.8,36.4,6.6,35.6,8,36.2,9.1,36.7,11,36.7,12.9,37.3,9.5,35.7,11.8,36,10.3,35.1,12.9,36,14.8,35.4,18.8,35.7,17.1,34.9,8.8,34.5,11,34.8,14,34.5,21,34.8,19.3,35.1,21,34.5,11.2,33.8,12.3,33.5,15,33.1,17.2,33.3,18.9,33.4,9.9,32.5,21.6,32.5,24.4,32.2,14,32.2,16.9,31.7,22.3,32,13.3,31.7,21.4,31.3,23.2,30.8,15.4,30.6,16.7,30.1,14.9,28.4,16.5,28.5,18.6,28.3,19.3,28.3,20.7,28,20.5,26.5,18,26.2,-7.9,16.6,-6.6,14,.5,15.9,18.5,-2.2,9.8,36.4,10.7,35.8,11.3,35.5,9,35.4,9.4,36.3,10.1,34.4,10.6,36.5,11.5,34.9,12,35,7.7,35.1];

const panelA=[aBathtub,aBed,aChair,aDesk,aDresser,aMonitor,aNight,aSofa,aTable,aToilet];
const panelB=[bBathtub,bBed,bChair,bDesk,bDresser,bMonitor,bNight,bSofa,bTable,bToilet];
const panelC=[cBathtub,cBed,cChair,cDesk,cDresser,cMonitor,cNight,cSofa,cTable,cToilet];

const svg=d3.select("#c");
const layouts=[
 {data:panelA,box:[51,581,12,596],xd:[-40,40],xr:[56.3,537],yd:[-40,40],yr:[547,66.3],r:3.8,xSize:20,ySize:19},
 {data:panelB,box:[631,1239,16,585],xd:[-40,40],xr:[708.3,1198],yd:[-40,20],yr:[470,102],r:3.7,xSize:20,ySize:19},
 {data:panelC,box:[1291,1853,12,590],xd:[-40,40],xr:[1361.6,1794.7],yd:[-40,40],yr:[486,53.3],r:3.6,xSize:19.5,ySize:19.5}
];
const yTicks=[[-40,-20,0,20,40],[-40,-20,0,20],[-40,-20,0,20,40]];
// label centre height and small sideways shift of each x tick label, per panel
const xLabelY=[[616,616,616,610,610],[606,606,606,606,606],[611,611,611,611,611]];
const xLabelDx=[[-1,-3,-2,-5,-2],[0,0,2,-2,-2],[0,-3,0,3,0]];
const sideColors=[["#888","#222","#888","#777"],["#222","#999","#222","#222"],["#999","#333","#999","#999"]];

layouts.forEach((p,pi)=>{
  const [L,R,T,B]=p.box;
  const x=d3.scaleLinear().domain(p.xd).range(p.xr);
  const y=d3.scaleLinear().domain(p.yd).range(p.yr);
  const g=svg.append("g");
  p.data.forEach((arr,ci)=>{
    const pts=d3.range(0,arr.length,2).map(i=>[arr[i],arr[i+1]]);
    g.append("g").selectAll("circle").data(pts).join("circle")
      .attr("cx",d=>x(d[0])).attr("cy",d=>y(d[1])).attr("r",p.r).attr("fill",colors[ci]);
  });
  const ax=g.append("g").attr("transform",`translate(0,${B})`).call(d3.axisBottom(x).tickValues(tickLabels).tickSize(4).tickFormat(d=>String(d)));
  const ay=g.append("g").attr("transform",`translate(${L},0)`).call(d3.axisLeft(y).tickValues(yTicks[pi]).tickSize(4).tickPadding(7).tickFormat(d=>String(d)));
  [ax,ay].forEach(a=>{a.select(".domain").remove();a.selectAll("line").attr("stroke","#444");a.selectAll("text").attr("fill","#111").style("font-family",'"DejaVu Sans"');});
  ax.selectAll("text").attr("font-size",p.xSize).attr("dy",null).attr("dominant-baseline","central")
    .attr("y",(d,i)=>xLabelY[pi][i]-B).attr("x",(d,i)=>xLabelDx[pi][i]);
  ay.selectAll("text").attr("font-size",p.ySize);
  const sides=[[L,T,R,T],[R,T,R,B],[L,B,R,B],[L,T,L,B]];
  g.append("g").selectAll("line").data(sides).join("line")
    .attr("x1",d=>d[0]).attr("y1",d=>d[1]).attr("x2",d=>d[2]).attr("y2",d=>d[3])
    .attr("stroke",(d,i)=>sideColors[pi][i]).attr("stroke-width",1.6);
  if(pi===0){
    g.append("g").selectAll("line").data([-30,-10,10,30]).join("line")
      .attr("x1",d=>x(d)).attr("x2",d=>x(d)).attr("y1",B).attr("y2",B+3).attr("stroke","#555");
  }
});

// titles
const titles=[
 {t:"a) vanilla contrastive",x:113,y:660,w:367,s:33},
 {t:"b) with guided feature mapping",x:669,y:654,w:554,s:36},
 {t:"c) with guided augmentations",x:1294,y:657,w:524,s:38},
 {t:"and feature mapping",x:1379,y:701,w:365,s:38}
];
svg.append("g").selectAll("text").data(titles).join("text")
 .attr("x",d=>d.x).attr("y",d=>d.y).attr("font-size",d=>d.s).attr("fill","#000")
 .attr("textLength",d=>d.w).attr("lengthAdjust","spacingAndGlyphs").text(d=>d.t);

// legend
const lg=svg.append("g");
lg.append("rect").attr("x",1878).attr("y",77).attr("width",277).attr("height",448).attr("rx",6)
  .attr("fill","#fff").attr("stroke","#d8d8d8").attr("stroke-width",3);
const ly=d3.scalePoint().domain(categories).range([104,500]);
const rows=lg.selectAll("g.row").data(categories).join("g").attr("class","row");
rows.append("circle").attr("cx",1917.7).attr("cy",d=>ly(d)).attr("r",9.3).attr("fill",(d,i)=>colors[i]);
rows.append("text").attr("x",1972).attr("y",d=>ly(d)+7).attr("font-size",28).attr("fill","#222").text(d=>d);
</script></body></html>
